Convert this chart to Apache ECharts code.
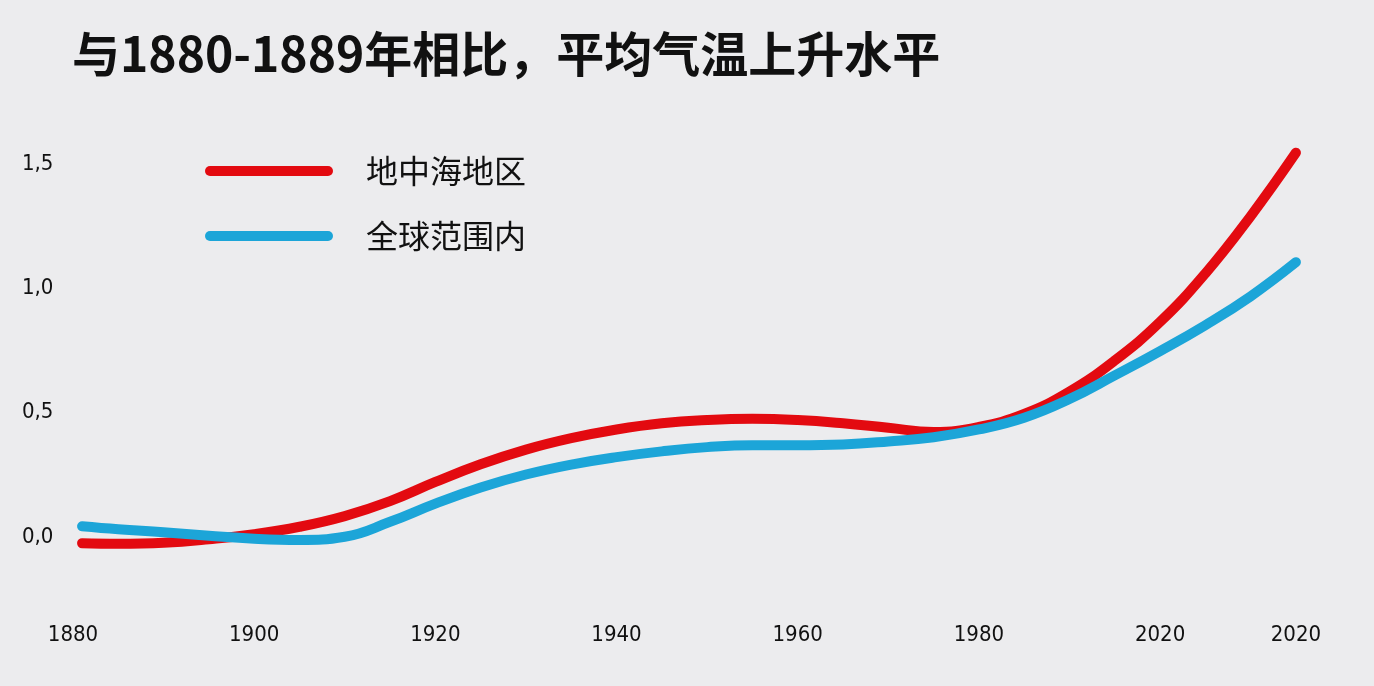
<!DOCTYPE html>
<html>
<head>
<meta charset="utf-8">
<style>
  html, body { margin: 0; padding: 0; background: #ececee; }
  #chart { width: 1374px; height: 686px; }
</style>
<script src="https://cdn.jsdelivr.net/npm/echarts@6/dist/echarts.min.js"></script>
</head>
<body>
<div id="chart"></div>
<script>
const titleText = '与1880-1889年相比，平均气温上升水平';
const seriesNames = ['地中海地区', '全球范围内'];
const years = [1881, 1885, 1890, 1895, 1900, 1905, 1910, 1915, 1920, 1925, 1930, 1935, 1940, 1945, 1950, 1955, 1960, 1965, 1970, 1975, 1980, 1985, 1990, 1995, 2000, 2005, 2010, 2015];
const mediterranean = [-0.024, -0.026, -0.022, -0.008, 0.012, 0.042, 0.085, 0.145, 0.222, 0.293, 0.352, 0.398, 0.433, 0.458, 0.471, 0.476, 0.471, 0.458, 0.440, 0.423, 0.443, 0.495, 0.585, 0.710, 0.865, 1.060, 1.290, 1.545];
const globalMean = [0.044, 0.032, 0.020, 0.006, -0.006, -0.011, 0.002, 0.062, 0.135, 0.200, 0.252, 0.292, 0.322, 0.345, 0.362, 0.370, 0.370, 0.373, 0.385, 0.402, 0.433, 0.480, 0.555, 0.650, 0.748, 0.852, 0.968, 1.105];
const xTicks = [1880, 1900, 1920, 1940, 1960, 1980, 2000, 2015];
const xTickLabels = ['1880', '1900', '1920', '1940', '1960', '1980', '2020', '2020'];
const yTicks = [0, 0.5, 1, 1.5];
const yTickLabels = ['0,0', '0,5', '1,0', '1,5'];
const colors = ['#e30a10', '#1ca5d8'];

const chart = echarts.init(document.getElementById('chart'));
const legendIcon = 'path://M5,0 L123,0 A5,5 0 0 1 123,10 L5,10 A5,5 0 0 1 5,0 Z';
const numFont = "'DejaVu Sans Condensed', Roboto, sans-serif";

chart.setOption({
  backgroundColor: '#ececee',
  animation: false,
  title: {
    text: titleText,
    left: 72,
    top: 30,
    padding: 0,
    textStyle: {
      fontFamily: 'Noto Sans CJK SC',
      fontSize: 48,
      fontWeight: 'bold',
      color: '#111'
    }
  },
  legend: {
    orient: 'vertical',
    left: 205,
    top: 155,
    padding: 0,
    itemWidth: 128,
    itemHeight: 10,
    itemGap: 33,
    icon: legendIcon,
    data: seriesNames,
    textStyle: {
      fontFamily: 'Noto Sans CJK SC',
      fontSize: 32,
      lineHeight: 32,
      color: '#111',
      padding: [0, 0, 0, 28]
    }
  },
  grid: {
    left: 73,
    right: 69,
    top: 139,
    bottom: 99,
    containLabel: false
  },
  xAxis: {
    type: 'value',
    min: 1880,
    max: 2016,
    axisLine: { show: false },
    axisTick: { show: false },
    splitLine: { show: false },
    axisLabel: {
      customValues: xTicks,
      margin: 37,
      fontFamily: numFont,
      fontSize: 22,
      color: '#111',
      formatter: function (v) {
        const i = xTicks.indexOf(v);
        return i >= 0 ? xTickLabels[i] : '';
      }
    }
  },
  yAxis: {
    type: 'value',
    min: -0.2,
    max: 1.6,
    axisLine: { show: false },
    axisTick: { show: false },
    splitLine: { show: false },
    axisLabel: {
      customValues: yTicks,
      margin: 51,
      align: 'left',
      fontFamily: numFont,
      fontSize: 22,
      color: '#111',
      formatter: function (v) {
        const i = yTicks.indexOf(v);
        return i >= 0 ? yTickLabels[i] : '';
      }
    }
  },
  series: [
    {
      name: seriesNames[0],
      type: 'line',
      smooth: 0.45,
      showSymbol: false,
      color: colors[0],
      lineStyle: { width: 10, color: colors[0], cap: 'round', join: 'round' },
      data: years.map((y, i) => [y, mediterranean[i]])
    },
    {
      name: seriesNames[1],
      type: 'line',
      smooth: 0.45,
      showSymbol: false,
      color: colors[1],
      lineStyle: { width: 10, color: colors[1], cap: 'round', join: 'round' },
      data: years.map((y, i) => [y, globalMean[i]])
    }
  ]
});
</script>
</body>
</html>
